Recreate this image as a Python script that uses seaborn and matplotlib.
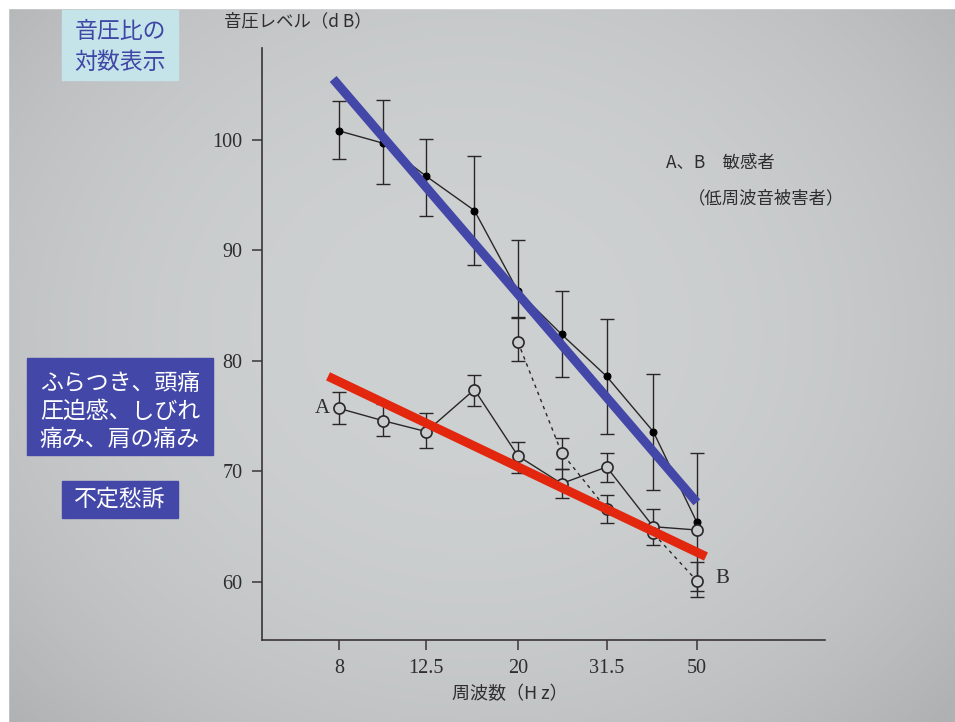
import numpy as np
import matplotlib
matplotlib.use("Agg")
import matplotlib.pyplot as plt
import matplotlib.patches as mpatches
import seaborn as sns

# ---------------- data ----------------
freq = [8, 10, 12.5, 16, 20, 25, 31.5, 40, 50]
tick_freqs = [8, 12.5, 20, 31.5, 50]
tick_labels = ["8", "12.5", "20", "31.5", "50"]
y_ticks = [60, 70, 80, 90, 100]

# upper series (filled dots)
upper_mean = [100.8, 99.7, 96.7, 93.6, 86.3, 82.4, 78.6, 73.6, 65.4]
upper_top = [103.5, 103.6, 100.1, 98.5, 90.9, 86.3, 83.8, 78.8, 71.7]
upper_bot = [98.3, 96.0, 93.1, 88.7, 83.9, 78.5, 73.4, 68.3, 59.2]

# series A (open circles, solid)
a_mean = [75.7, 74.6, 73.6, 77.4, 71.4, 68.9, 70.4, 65.0, 64.7]
a_top = [77.2, 76.1, 75.3, 78.7, 72.7, 70.2, 71.7, 66.6, np.nan]
a_bot = [74.3, 73.2, 72.1, 75.9, 69.9, 67.6, 69.0, 63.3, np.nan]

# series B (open circles, dashed)
b_freq = [20, 25, 31.5, 40, 50]
b_mean = [81.7, 71.7, 66.6, 64.4, 60.1]
b_top = [84.0, 73.0, 67.9, np.nan, 61.8]
b_bot = [80.0, 70.2, 65.3, np.nan, 58.6]

# overlay trend lines (annotation)
blue_x = [7.76, 50]
blue_y = [105.5, 67.2]
red_x = [7.56, 52.4]
red_y = [78.6, 62.3]

# ---------------- style ----------------
sns.set_theme(style="white")
plt.rcParams["font.family"] = ["Noto Sans CJK JP", "DejaVu Sans"]

W, H = 955, 722
fig = plt.figure(figsize=(W / 100, H / 100), dpi=100)

# photo-like background gradient
yy, xx = np.mgrid[0:H, 0:W]
d = np.sqrt(((xx - 470) / 650.0) ** 2 + ((yy - 330) / 560.0) ** 2)
d = np.clip(d, 0, 1)
c_center = np.array([206, 209, 210]) / 255.0
c_edge = np.array([176, 177, 178]) / 255.0
w = d[..., None] ** 2.5
img = c_center[None, None, :] * (1 - w) + c_edge[None, None, :] * w
bg = fig.add_axes([0, 0, 1, 1], zorder=-10)
bg.imshow(img, extent=[0, 1, 0, 1], aspect="auto", origin="upper")
bg.axis("off")
# white scan borders
fig.patches.append(mpatches.Rectangle((0, 1 - 8 / H), 1, 8 / H, transform=fig.transFigure,
                                      color="white", zorder=-5))
fig.patches.append(mpatches.Rectangle((0, 0), 8 / W, 1, transform=fig.transFigure,
                                      color="white", zorder=-5))


def fx(px):
    return px / W


def fy(py):
    return 1 - py / H


ax = fig.add_axes([fx(262), fy(640), fx(825) - fx(262), fy(48) - fy(640)])
ax.set_facecolor("none")
ax.set_xscale("log")
ax.set_xlim(5.39, 96.4)
ax.set_ylim(54.75, 108.3)

ink = "#2a2628"
circle_face = "#c9cccd"

# error bars
ekw = dict(fmt="none", ecolor=ink, elinewidth=1.0, capsize=5, capthick=1.0, zorder=2)
ax.errorbar(freq, upper_mean,
            yerr=[np.array(upper_mean) - np.array(upper_bot), np.array(upper_top) - np.array(upper_mean)],
            **ekw)
ax.errorbar(freq, a_mean,
            yerr=[np.array(a_mean) - np.array(a_bot), np.array(a_top) - np.array(a_mean)],
            **ekw)
ax.errorbar(b_freq, b_mean,
            yerr=[np.array(b_mean) - np.array(b_bot), np.array(b_top) - np.array(b_mean)],
            **ekw)

# lines
sns.lineplot(x=freq, y=upper_mean, ax=ax, color=ink, linewidth=1.0, sort=False,
             marker="o", markersize=5, markerfacecolor="black", markeredgecolor="black",
             errorbar=None, zorder=3)
sns.lineplot(x=freq, y=a_mean, ax=ax, color=ink, linewidth=1.0, sort=False,
             marker="o", markersize=8, markerfacecolor=circle_face, markeredgecolor=ink,
             markeredgewidth=1.2, errorbar=None, zorder=3)
sns.lineplot(x=b_freq, y=b_mean, ax=ax, color=ink, linewidth=1.0, sort=False,
             linestyle=(0, (2.5, 3)),
             marker="o", markersize=8, markerfacecolor=circle_face, markeredgecolor=ink,
             markeredgewidth=1.2, errorbar=None, zorder=3)

# overlay trend lines
sns.lineplot(x=blue_x, y=blue_y, ax=ax, color="#4347a8", linewidth=6.5, sort=False,
             errorbar=None, zorder=5, solid_capstyle="butt")
sns.lineplot(x=red_x, y=red_y, ax=ax, color="#e3260e", linewidth=6.5, sort=False,
             errorbar=None, zorder=5, solid_capstyle="butt")

# axes styling
for s in ["top", "right"]:
    ax.spines[s].set_visible(False)
for s in ["left", "bottom"]:
    ax.spines[s].set_color("#3a3438")
    ax.spines[s].set_linewidth(1.2)
ax.set_xticks(tick_freqs)
ax.set_xticklabels(tick_labels)
ax.xaxis.set_minor_locator(matplotlib.ticker.NullLocator())
ax.set_yticks(y_ticks)
ax.set_yticklabels([str(v) for v in y_ticks])
ax.tick_params(axis="both", which="major", direction="out", length=7, width=1.1,
               color="#3a3438", labelcolor="#2e2e2e", labelsize=14.5, pad=7,
               bottom=True, left=True)
for lab in ax.get_xticklabels() + ax.get_yticklabels():
    lab.set_fontfamily("Liberation Serif")
ax.set_xlabel("")
ax.set_ylabel("")

# axis titles
fig.text(fx(298), fy(21), "音圧レベル（d B）", ha="center", va="center",
         fontsize=12.5, color="#2e2e2e")
fig.text(fx(510), fy(694), "周波数（H z）", ha="center", va="center",
         fontsize=13, color="#2e2e2e")

# in-chart labels
ax.text(7.33, 75.7, "A", ha="center", va="center", fontsize=15,
        family="Liberation Serif", color="#2e2e2e")
ax.text(57.0, 60.3, "B", ha="center", va="center", fontsize=15,
        family="Liberation Serif", color="#2e2e2e")
fig.text(fx(666), fy(163), "A、B　敏感者", ha="left", va="center",
         fontsize=12.5, color="#2e2e2e")
fig.text(fx(688), fy(198), "（低周波音被害者）", ha="left", va="center",
         fontsize=12.5, color="#2e2e2e")

# overlay boxes
def box(x0, y0, x1, y1, color):
    fig.patches.append(mpatches.Rectangle((fx(x0), fy(y1)), fx(x1) - fx(x0), fy(y0) - fy(y1),
                                          transform=fig.transFigure, color=color, zorder=6))


box(62, 10, 178, 80, "#c5e4e9")
fig.text(fx(120), fy(32), "音圧比の", ha="center", va="center", fontsize=16.5,
         color="#3f46a6", zorder=7)
fig.text(fx(120), fy(62), "対数表示", ha="center", va="center", fontsize=16.5,
         color="#3f46a6", zorder=7)

box(27, 358, 213, 455, "#4348a8")
for txt, yy_ in zip(["ふらつき、頭痛", "圧迫感、しびれ", "痛み、肩の痛み"], [383, 411, 439]):
    fig.text(fx(120), fy(yy_), txt, ha="center", va="center", fontsize=16.5,
             color="white", zorder=7)

box(62, 481, 178, 518, "#4348a8")
fig.text(fx(120), fy(499), "不定愁訴", ha="center", va="center", fontsize=16.5,
         color="white", zorder=7)

fig.savefig("out.png", dpi=100)
